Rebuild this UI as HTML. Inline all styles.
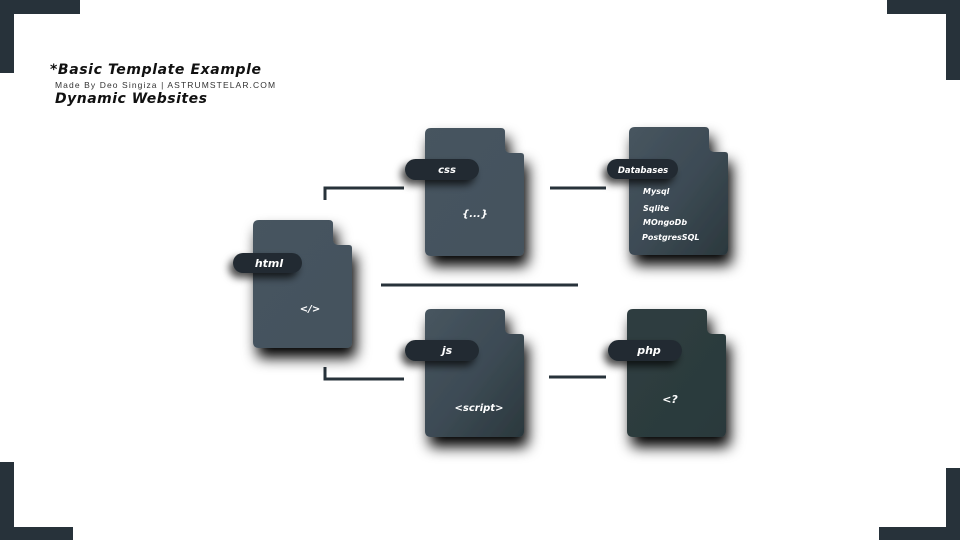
<!DOCTYPE html>
<html><head><meta charset="utf-8"><style>
html,body{margin:0;padding:0;background:#fff;width:960px;height:540px;overflow:hidden}
svg{display:block}
.t{font-family:"DejaVu Sans","Liberation Sans",sans-serif;font-weight:bold;font-style:italic;fill:#fff}
</style></head><body>
<svg width="960" height="540" viewBox="0 0 960 540" xmlns="http://www.w3.org/2000/svg">
<defs>
<filter id="sh" x="-40%" y="-40%" width="180%" height="180%">
<feDropShadow dx="4" dy="10" stdDeviation="7" flood-color="#000" flood-opacity="1"/>
</filter>
<filter id="sh2" x="-40%" y="-80%" width="180%" height="260%">
<feDropShadow dx="-4" dy="5" stdDeviation="4" flood-color="#000" flood-opacity="0.7"/>
</filter>
<linearGradient id="g1" x1="0" y1="0" x2="1" y2="1"><stop offset="0" stop-color="#46545f"/><stop offset="1" stop-color="#44525d"/></linearGradient>
<linearGradient id="g2" x1="0" y1="0" x2="1" y2="1"><stop offset="0" stop-color="#47555f"/><stop offset="0.5" stop-color="#3d4b55"/><stop offset="1" stop-color="#2b383d"/></linearGradient>
<linearGradient id="g3" x1="0" y1="0" x2="1" y2="1"><stop offset="0" stop-color="#2f3e41"/><stop offset="1" stop-color="#2a393b"/></linearGradient>
</defs>
<g fill="#27323a">
<rect x="0" y="0" width="80" height="14"/><rect x="0" y="0" width="14" height="73"/>
<rect x="887" y="0" width="73" height="14"/><rect x="946" y="0" width="14" height="80"/>
<rect x="0" y="462" width="14" height="78"/><rect x="0" y="527" width="73" height="13"/>
<rect x="879" y="527" width="81" height="13"/><rect x="946" y="468" width="14" height="72"/>
</g>
<text x="50" y="74" font-family="DejaVu Sans, sans-serif" font-weight="bold" font-style="italic" font-size="14" letter-spacing="0.6" fill="#111">*Basic Template Example</text>
<text x="55" y="88" font-family="Liberation Sans, sans-serif" font-size="8.5" fill="#333" letter-spacing="1.1">Made  By  Deo  Singiza  |  ASTRUMSTELAR.COM</text>
<text x="55" y="103" font-family="DejaVu Sans, sans-serif" font-weight="bold" font-style="italic" font-size="14" letter-spacing="0.5" fill="#111">Dynamic Websites</text>
<g stroke="#27323a" stroke-width="3" fill="none">
<polyline points="325,200 325,188 404,188"/>
<polyline points="325,367 325,379 404,379"/>
<line x1="381" y1="285" x2="578" y2="285"/>
<line x1="550" y1="188" x2="606" y2="188"/>
<line x1="549" y1="377" x2="606" y2="377"/>
</g>
<g filter="url(#sh)">
<path fill="url(#g1)" d="M259,220 H329 Q333,220 333,224 V239 Q333,245 339,245 H349 Q352,245 352,248 V342 Q352,348 346,348 H259 Q253,348 253,342 V226 Q253,220 259,220 Z"/>
<path fill="url(#g1)" d="M431,128 H501 Q505,128 505,132 V147 Q505,153 511,153 H521 Q524,153 524,156 V250 Q524,256 518,256 H431 Q425,256 425,250 V134 Q425,128 431,128 Z"/>
<path fill="url(#g2)" d="M635,127 H705 Q709,127 709,131 V146 Q709,152 715,152 H725 Q728,152 728,155 V249 Q728,255 722,255 H635 Q629,255 629,249 V133 Q629,127 635,127 Z"/>
<path fill="url(#g2)" d="M431,309 H501 Q505,309 505,313 V328 Q505,334 511,334 H521 Q524,334 524,337 V431 Q524,437 518,437 H431 Q425,437 425,431 V315 Q425,309 431,309 Z"/>
<path fill="url(#g3)" d="M633,309 H703 Q707,309 707,313 V328 Q707,334 713,334 H723 Q726,334 726,337 V431 Q726,437 720,437 H633 Q627,437 627,431 V315 Q627,309 633,309 Z"/>
</g>
<g fill="#222b31" filter="url(#sh2)">
<rect x="233" y="253" width="69" height="20" rx="10"/>
<rect x="405" y="159" width="74" height="21" rx="10.5"/>
<rect x="607" y="159" width="71" height="20" rx="10"/>
<rect x="405" y="340" width="74" height="21" rx="10.5"/>
<rect x="608" y="340" width="74" height="21" rx="10.5"/>
</g>
<text class="t" x="269" y="267" font-size="11" text-anchor="middle">html</text>
<text class="t" x="310" y="312" font-size="10" text-anchor="middle">&lt;/&gt;</text>
<text class="t" x="447" y="173" font-size="10" text-anchor="middle">css</text>
<text class="t" x="475" y="217" font-size="10" text-anchor="middle">{...}</text>
<text class="t" x="643" y="173" font-size="8.5" text-anchor="middle">Databases</text>
<text class="t" x="643" y="194" font-size="8">Mysql</text>
<text class="t" x="643" y="211" font-size="8">Sqlite</text>
<text class="t" x="643" y="225" font-size="8">MOngoDb</text>
<text class="t" x="642" y="240" font-size="8">PostgresSQL</text>
<text class="t" x="447" y="354" font-size="11" text-anchor="middle">js</text>
<text class="t" x="479" y="411" font-size="10" text-anchor="middle">&lt;script&gt;</text>
<text class="t" x="649" y="354" font-size="11" text-anchor="middle">php</text>
<text class="t" x="670" y="403" font-size="11" text-anchor="middle">&lt;?</text>
</svg>
</body></html>
